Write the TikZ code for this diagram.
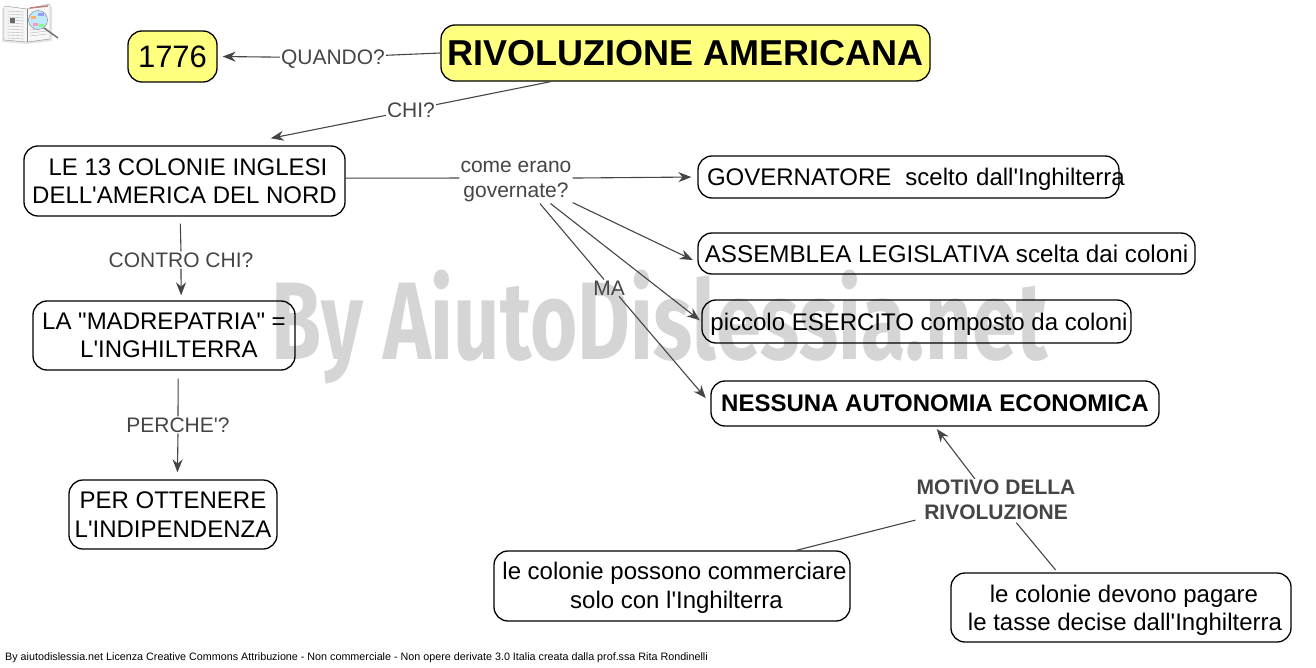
\documentclass[tikz,border=0pt]{standalone}
\usepackage{fontspec}
\setmainfont{Liberation Sans}
\newfontfamily\markfont{Fira Sans}
\usetikzlibrary{arrows.meta}
\definecolor{giallo}{HTML}{FFFF80}
\definecolor{linea}{HTML}{454545}
\definecolor{filigrana}{HTML}{D5D5D5}
\def\ap{\textquotesingle}
\def\dq{\textquotedbl}
\def\giu#1#2{\raisebox{-#1}[\height][\depth]{#2}}
\tikzset{
	concetto/.style={draw=black,line width=1.3pt,rounded corners=14pt,align=center,inner sep=0pt,text=black,font=\fontsize{24}{28.5}\selectfont},
	giallobox/.style={concetto,fill=giallo},
	domanda/.style={align=center,inner sep=1pt,text=linea,font=\fontsize{21}{25}\selectfont},
	legame/.style={draw=linea,line width=1.1pt},
}
\begin{document}
\begin{tikzpicture}[x=1pt,y=-1pt,>={Stealth[length=13pt,width=10pt]},line join=round]
	\useasboundingbox (0,0) rectangle (1316,668);
	% filigrana
	\node[inner sep=0pt,text=filigrana] (mark) at (660,327) {\resizebox*{776pt}{114pt}{\markfont\bfseries By AiutoDislessia.net}};
	% icona
	\fill[black!10] (2,8) -- (27,11) -- (52,6) -- (52,41) -- (27,44) -- (2,42) -- cycle;
	\draw[black!45,fill=black!3] (4,6) -- (27,9) -- (50,4) -- (50,39) -- (27,42) -- (4,40) -- cycle;
	\draw[black!50] (27,9) -- (27,42);
	\foreach \y in {11,14,...,38} \draw[black!30] (7,\y) -- (24,\y+1);
	\foreach \y in {30,33,36} \draw[black!30] (30,\y) -- (47,\y-2);
	\fill[black!60] (10,18) rectangle (15,23);
	\draw[red!50!black!50,line width=1.5pt] (30,8) -- (48,6);
	\draw[black!55,line width=1.5pt] (44,28) -- (58,38);
	\draw[black!50,fill=cyan!25] (38,20) circle (9.5);
	\fill[orange!60] (31,16) rectangle (36,19);
	\fill[green!50] (39,24) rectangle (44,27);
	\fill[magenta!40] (33,23) rectangle (38,26);
	\fill[blue!40] (38,13) rectangle (44,16);
	% concetti
	\node[giallobox,minimum width=89pt,minimum height=51pt,font=\fontsize{31}{34}\selectfont] (anno) at (172.5,56.5) {1776};
	\node[giallobox,minimum width=489pt,minimum height=56pt,font=\fontsize{36}{40}\selectfont\bfseries] (titolo) at (685.5,53) {RIVOLUZIONE AMERICANA};
	\node[concetto,minimum width=321pt,minimum height=70pt] (colonie) at (184.5,181) {\hspace*{7pt}LE 13 COLONIE INGLESI\\DELL\ap AMERICA DEL NORD};
	\node[concetto,minimum width=262pt,minimum height=69pt] (madre) at (164,335.5) {LA \dq MADREPATRIA\dq{} =\\\hspace*{10pt}L\ap INGHILTERRA};
	\node[concetto,minimum width=208pt,minimum height=69pt] (indip) at (173,514.5) {PER OTTENERE\\L\ap INDIPENDENZA};
	\node[concetto,minimum height=42pt,text width=413pt,inner xsep=4pt,align=left] (gov) at (908.5,177) {\mbox{\giu{2pt}{\hspace*{5pt}GOVERNATORE\hspace{14pt}scelto dall\ap Inghilterra}}};
	\node[concetto,minimum width=497pt,minimum height=41pt,font=\fontsize{24.2}{28.5}\selectfont] (ass) at (946.5,253.5) {ASSEMBLEA LEGISLATIVA scelta dai coloni};
	\node[concetto,minimum width=429pt,minimum height=43pt] (eserc) at (916.5,321.5) {\giu{3pt}{\hspace*{5pt}piccolo ESERCITO composto da coloni}};
	\node[concetto,minimum width=448pt,minimum height=45pt,font=\fontsize{24}{28.5}\selectfont\bfseries] (nessuna) at (935,403.5) {NESSUNA AUTONOMIA ECONOMICA};
	\node[concetto,minimum width=356pt,minimum height=70pt] (commercio) at (672,586) {\giu{2pt}{\hspace*{5pt}le colonie possono commerciare}\\\giu{2pt}{\hspace*{9pt}solo con l\ap Inghilterra}};
	\node[concetto,minimum width=340pt,minimum height=69pt] (tasse) at (1121,607.5) {\giu{3pt}{\hspace*{6pt}le colonie devono pagare}\\\giu{3pt}{\hspace*{8pt}le tasse decise dall\ap Inghilterra}};
	% domande
	\node[domanda] (quando) at (333,59) {QUANDO?};
	\node[domanda] (chi) at (411,110) {CHI?};
	\node[domanda] (come) at (516,182) {come erano\\governate?};
	\node[domanda] (contro) at (181,260) {CONTRO CHI?};
	\node[domanda] (perche) at (178,425) {PERCHE\ap ?};
	\node[domanda] (ma) at (609,288) {MA};
	\node[domanda,font=\fontsize{21}{25}\selectfont\bfseries] (motivo) at (996,500) {MOTIVO DELLA\\RIVOLUZIONE};
	% legami
	\draw[legame] (titolo.west) -- (quando.4);
	\draw[legame,->,shorten >=5pt] (quando.178) -- (anno.east);
	\draw[legame] (titolo.192) -- (chi.12);
	\draw[legame,->,shorten >=36pt] (chi.192) -- (colonie.35);
	\draw[legame] (colonie.1) -- (come.176);
	\draw[legame,->,shorten >=6pt] (come.4) -- (gov.west);
	\draw[legame,->,shorten >=5pt] (come.-20) -- (ass.182);
	\draw[legame,->,shorten >=2pt] (come.-32) -- (eserc.west);
	\draw[legame] (come.-42) -- (ma.120);
	\draw[legame,->,shorten >=7pt] (ma.-40) -- (nessuna.west);
	\draw[legame,shorten <=7pt] (colonie.-97) -- (contro.north);
	\draw[legame,->,shorten >=5pt] (contro.south) -- (madre.64);
	\draw[legame,shorten <=8pt] (madre.-68) -- (perche.north);
	\draw[legame,->,shorten >=7pt] (perche.south) -- (indip.83);
	\draw[legame,->,shorten >=3pt] (motivo.135) -- (nessuna.south);
	\draw[legame] (commercio.16) -- (motivo.194);
	\draw[legame,shorten <=3pt,shorten >=2pt] (tasse.151) -- (motivo.-48);
	% licenza
	\node[anchor=west,inner sep=0pt,font=\fontsize{10.75}{12}\selectfont] (licenza) at (5,658) {By aiutodislessia.net Licenza Creative Commons Attribuzione - Non commerciale - Non opere derivate 3.0 Italia creata dalla prof.ssa Rita Rondinelli};
\end{tikzpicture}
\end{document}
